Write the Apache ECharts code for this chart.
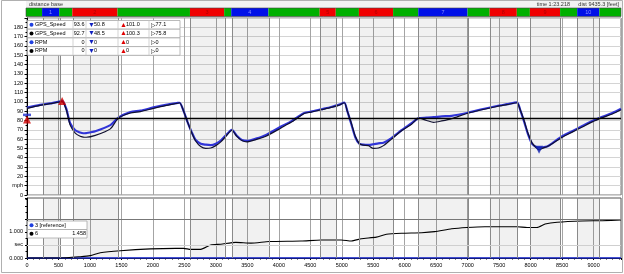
<!DOCTYPE html>
<html><head><meta charset="utf-8">
<script src="https://cdn.jsdelivr.net/npm/echarts@6/dist/echarts.min.js"></script>
<style>html,body{margin:0;padding:0;background:#fff}#c{width:624px;height:274px}</style>
</head><body><div id="c"></div>
<script>
// ---- data ----
const distFt = [0,207,367,526,558,622,686,766,845,893,941,1085,1324,1451,1643,1802,2010,2201,2392,2424,2488,2552,2616,2679,2759,2839,2919,2998,3078,3158,3254,3333,3413,3493,3636,3796,4035,4195,4306,4402,4514,4673,4833,4960,5040,5088,5152,5215,5279,5343,5423,5502,5582,5662,5789,5949,6108,6220,6348,6459,6587,6746,6986,7225,7464,7624,7783,7831,7895,7959,8022,8086,8134,8182,8262,8341,8501,8660,8820,8979,9139,9298,9435];
const speedLap3 = [93.8,96.8,98.3,100.5,101,93,77,69.5,67,66.3,66.5,68.5,75,83,89,90.5,94,96.8,98.8,99,90,78,67.5,59,55,54,53.5,55,58.5,64,70,63.5,59,58,60.5,64.5,73.5,79,84,88,89.5,92,94.5,97,99.3,90,76,62,55,54,53.8,54.5,55.5,56,61,69.5,77,82.5,83,83.5,84.5,85,88,92,95.5,97.5,99.5,92,79,65,55,51.5,50.8,51,52,55.5,63,68.5,74,79.5,84,88,92.5];
const speedLap6 = [93,96.3,98,100,100.3,92,75,66.5,63,62.2,62,64,71,82.5,88,89.5,93,96,98.5,99,90,78,67,58,52,50,50.5,53,57,63,69.5,63,58.5,57,59.5,63,72,78,83,87.5,89,91.5,94,96.5,99,90,77,63,55,53.5,53,50,50.5,53,60,69,76,82.5,80,78,79.5,82,87.5,91.5,95,97,99,92,80,66,56,51,48.5,50,52,55,62,67.5,73,78.5,83,87,91.5];
const timeDist = [0,526,845,1005,1164,1483,1962,2360,2488,2600,2759,2919,3078,3317,3557,3844,4354,4673,4992,5152,5311,5550,5710,5949,6268,6475,6746,6986,7273,7783,7943,8102,8230,8421,8820,9139,9435];
const timeDiffLap6 = [0,0,0.05,0.09,0.2,0.28,0.35,0.37,0.37,0.33,0.33,0.5,0.53,0.6,0.57,0.63,0.65,0.69,0.69,0.65,0.74,0.8,0.91,0.95,0.97,1.01,1.12,1.17,1.2,1.2,1.17,1.17,1.3,1.37,1.42,1.43,1.458];
const refDist = [0, 9435];
const refDiff = [0, 0];
const cursorSpeed = 82.5;

const segStart = [0,255,526,734,1451,2600,3142,3254,3844,4657,4912,5279,5821,6220,7002,7352,7783,7990,8469,8740,9091];
const segEnd   = [255,526,734,1451,2600,3142,3254,3844,4657,4912,5279,5821,6220,7002,7352,7783,7990,8469,8740,9091,9435];
const segKind  = [0,2,0,1,0,1,0,2,0,1,0,1,0,2,0,1,0,1,0,2,0];
const segLabel = ['','1','','2','','3','','4','','5','','6','','7','','8','','9','','10',''];

const markerDist = [0, 0, 558, 8134];
const markerVal  = [86, 81, 101, 48.5];
const markerShape = ['rect','triangle','triangle','triangle'];
const markerRotate = [0, 0, 0, 180];
const markerColor = ['#2030d0','#d00000','#d00000','#1020b0'];

const legendNames = ['GPS_Speed','GPS_Speed','RPM','RPM'];
const legendDots  = ['#2040e0','#000000','#2040e0','#000000'];
const legendCur   = ['93.6','92.7','0','0'];
const legendMin   = ['50.8','48.5','0','0'];
const legendMax   = ['101.0','100.3','0','0'];
const legendAvg   = ['77.1','75.8','0','0'];

const timeLegendNames = ['3 [reference]','6'];
const timeLegendDots = ['#2040e0','#000000'];
const timeLegendVals = ['','1.458'];

const xTickFont = "'Liberation Sans',sans-serif";

// ---- build ----
const segColors = ['#00b000','#f00000','#0010e8'];
const segTextColors = ['#060','#b00000','#8890ff'];
const segData = segStart.map((s,i)=>[s, segEnd[i], segKind[i]]);
const cornerData = segData.filter(d=>d[2]!==0);
const boundaries = segStart.slice(1).map(v=>({xAxis:v}));

function segItem(params, api){
  const s = api.value(0), e = api.value(1), k = api.value(2);
  const p0 = api.coord([s, 1]), p1 = api.coord([e, 0]);
  return {type:'group', children:[
    {type:'rect', shape:{x:p0[0], y:p0[1], width:p1[0]-p0[0], height:p1[1]-p0[1]}, style:{fill:segColors[k]}},
    {type:'text', x:(p0[0]+p1[0])/2, y:(p0[1]+p1[1])/2, style:{text:segLabel[params.dataIndex], fill:segTextColors[k], fontSize:5.5, fontFamily:xTickFont, align:'center', verticalAlign:'middle'}}
  ]};
}
function shadeItem(params, api){
  const cs = params.coordSys;
  const p0 = api.coord([api.value(0), 0]), p1 = api.coord([api.value(1), 0]);
  return {type:'rect', shape:{x:p0[0], y:cs.y, width:p1[0]-p0[0], height:cs.height}, style:{fill:'rgba(0,0,0,0.055)'}};
}

const graphic = [];
function txt(x,y,t,opt){ graphic.push(Object.assign({type:'text', x, y, silent:true, z:100, style:Object.assign({text:t, fontSize:5.5, fontFamily:xTickFont, fill:'#000', verticalAlign:'middle'}, opt||{})})); }
// frame and top strip
graphic.push({type:'rect', shape:{x:1.5,y:0.5,width:621,height:272}, style:{fill:'none', stroke:'#b0b0b0'}, silent:true, z:0});
graphic.push({type:'rect', shape:{x:26,y:1,width:596,height:7}, style:{fill:'#f2f2f2'}, silent:true, z:0});
txt(29, 4.5, 'distance base', {fill:'#333'});
txt(570, 4.5, 'time 1:23.218', {fill:'#333', align:'right'});
txt(619, 4.5, 'dist 9435.3 [feet]', {fill:'#333', align:'right'});
graphic.push({type:'rect', shape:{x:26,y:8,width:595,height:8.5}, style:{fill:'none', stroke:'#444', lineWidth:0.6}, silent:true, z:50});
// speed legend table
const lx = 27.5, ly = 20.5, rh = 8.7;
const colX = [27.5, 73, 86, 118, 149, 180];
legendNames.forEach((n,i)=>{
  const y = ly + i*rh;
  graphic.push({type:'rect', shape:{x:lx, y:y, width:152.5, height:rh}, style:{fill:'#fff', stroke:'#a8a8a8', lineWidth:0.8}, silent:true, z:90});
  for (let c=1;c<5;c++) graphic.push({type:'line', shape:{x1:colX[c], y1:y, x2:colX[c], y2:y+rh}, style:{stroke:'#c8c8c8', lineWidth:0.8}, silent:true, z:91});
  const cy = y + rh/2;
  graphic.push({type:'circle', shape:{cx:31.5, cy:cy, r:2}, style:{fill:legendDots[i]}, silent:true, z:100});
  txt(35, cy, n);
  txt(84.5, cy, legendCur[i], {align:'right'});
  txt(88, cy, '▼', {fill:'#1020c0', fontSize:7});
  txt(94, cy, legendMin[i]);
  txt(120, cy, '▲', {fill:'#e00000', fontSize:7});
  txt(126, cy, legendMax[i]);
  txt(150.5, cy, '▷', {fontSize:6});
  txt(155.5, cy, legendAvg[i]);
});
// time legend
timeLegendNames.forEach((n,i)=>{
  const y = 221 + i*8.5;
  graphic.push({type:'rect', shape:{x:27.5, y:y, width:59.5, height:8.5}, style:{fill:'#fff', stroke:'#a8a8a8', lineWidth:0.8}, silent:true, z:90});
  const cy = y + 4.25;
  graphic.push({type:'circle', shape:{cx:31.5, cy:cy, r:2}, style:{fill:timeLegendDots[i]}, silent:true, z:100});
  txt(35, cy, n);
  txt(86, cy, timeLegendVals[i], {align:'right'});
});

const gridLine = {lineStyle:{color:'#a4a4a4', width:1}};
const option = {
  animation:false,
  backgroundColor:'#fff',
  textStyle:{fontFamily:xTickFont},
  grid:[
    {left:26, right:3, top:8, height:8.5},
    {left:27, right:3, top:18, height:177, show:true, borderColor:'#777', borderWidth:1, backgroundColor:'#fff'},
    {left:27, right:3, top:198, height:60, show:true, borderColor:'#555', borderWidth:1, backgroundColor:'#fff'}
  ],
  xAxis:[
    {gridIndex:0, type:'value', min:0, max:9435, show:false},
    {gridIndex:1, type:'value', min:0, max:9435, interval:500, axisLabel:{show:false}, axisTick:{show:false}, axisLine:{show:false}, splitLine:gridLine},
    {gridIndex:2, type:'value', min:0, max:9435, interval:500,
      axisLabel:{fontSize:5.5, color:'#000', margin:4, fontFamily:xTickFont, showMaxLabel:false, formatter:v=>String(v)},
      axisLine:{lineStyle:{color:'#000'}}, axisTick:{length:2, lineStyle:{color:'#000'}},
      minorTick:{show:true, splitNumber:5, length:1.5, lineStyle:{color:'#000'}},
      splitLine:gridLine}
  ],
  yAxis:[
    {gridIndex:0, type:'value', min:0, max:1, show:false},
    {gridIndex:1, type:'value', min:0, max:190, interval:10,
      axisLabel:{fontSize:5.5, color:'#000', margin:4, fontFamily:xTickFont, formatter:v=> v===10?'mph':(v===190?'':String(v))},
      axisLine:{show:true, lineStyle:{color:'#000'}}, axisTick:{show:true, length:2.5, lineStyle:{color:'#000'}},
      minorTick:{show:true, splitNumber:2, length:1.5, lineStyle:{color:'#000'}},
      splitLine:{lineStyle:{color:'#d4d4d4'}}},
    {gridIndex:2, type:'value', min:0, max:2.3, interval:0.5,
      axisLabel:{fontSize:5.5, color:'#000', margin:4, fontFamily:xTickFont, formatter:v=> v===0?'0.000':(v===0.5?'sec':(v===1?'1.000':''))},
      axisLine:{show:true, lineStyle:{color:'#000'}}, axisTick:{show:true, length:2, lineStyle:{color:'#000'}},
      minorTick:{show:true, splitNumber:2, length:1.5, lineStyle:{color:'#000'}},
      splitLine:{show:false}}
  ],
  graphic: graphic,
  series:[
    {type:'custom', xAxisIndex:0, yAxisIndex:0, renderItem:segItem, data:segData, silent:true, clip:false},
    {type:'custom', xAxisIndex:1, yAxisIndex:1, renderItem:shadeItem, data:cornerData, silent:true, z:1,
      markLine:{silent:true, symbol:'none', label:{show:false}, lineStyle:{color:'#8a8a8a', width:1, type:'solid'}, data:boundaries}},
    {type:'custom', xAxisIndex:2, yAxisIndex:2, renderItem:shadeItem, data:cornerData, silent:true, z:1,
      markLine:{silent:true, symbol:'none', label:{show:false}, lineStyle:{color:'#8a8a8a', width:1, type:'solid'},
        data: boundaries.concat([{yAxis:0.5, lineStyle:{color:'#cfcfcf'}}, {yAxis:1.5, lineStyle:{color:'#777'}}])}},
    {type:'line', name:'GPS_Speed lap 3', xAxisIndex:1, yAxisIndex:1, data:distFt.map((d,i)=>[d, speedLap3[i]]),
      showSymbol:false, smooth:0.25, lineStyle:{color:'#3034d8', width:2.2}, z:3},
    {type:'line', name:'GPS_Speed lap 6', xAxisIndex:1, yAxisIndex:1, data:distFt.map((d,i)=>[d, speedLap6[i]]),
      showSymbol:false, smooth:0.25, lineStyle:{color:'#101030', width:1.2}, z:4,
      markLine:{silent:true, symbol:'none', label:{show:false}, lineStyle:{color:'#000', width:1.3, type:'solid'}, data:[{yAxis:cursorSpeed}]}},
    {type:'scatter', xAxisIndex:1, yAxisIndex:1, z:6, silent:true,
      data: markerDist.map((d,i)=>({value:[d, markerVal[i]], symbol:markerShape[i], symbolRotate:markerRotate[i], symbolSize: markerShape[i]==='rect'?[8,2.5]:8, itemStyle:{color:markerColor[i]}}))},
    {type:'line', name:'3 [reference]', xAxisIndex:2, yAxisIndex:2, data:refDist.map((d,i)=>[d, refDiff[i]]),
      showSymbol:false, lineStyle:{color:'#2030e0', width:1.5}, z:3},
    {type:'line', name:'6', xAxisIndex:2, yAxisIndex:2, data:timeDist.map((d,i)=>[d, timeDiffLap6[i]]),
      showSymbol:false, smooth:0.2, lineStyle:{color:'#000', width:1.1}, z:4}
  ]
};
const chart = echarts.init(document.getElementById('c'), null, {renderer:'canvas'});
chart.setOption(option);
</script>
</body></html>
